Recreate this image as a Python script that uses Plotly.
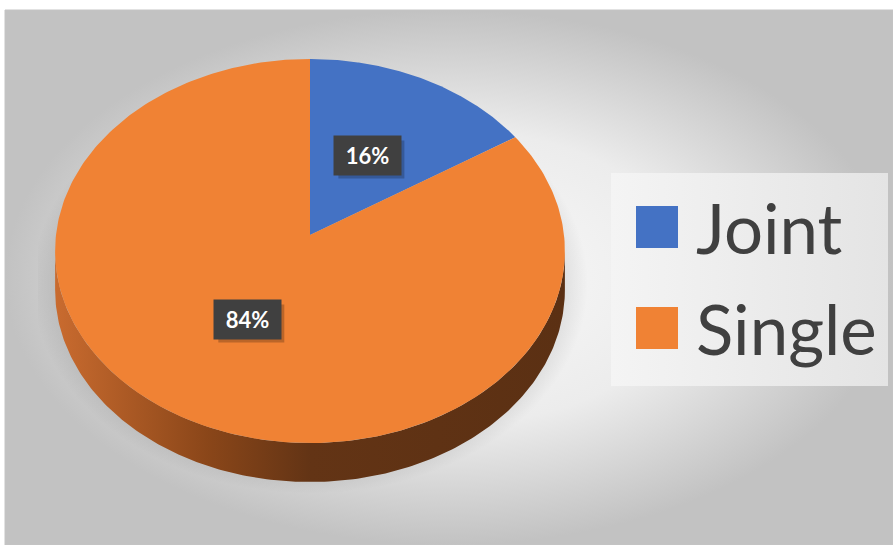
import numpy as np
import plotly.graph_objects as go

# ---- data ----
categories = ["Joint", "Single"]
shares = [16, 84]
top_colors = ["#4472C4", "#F08234"]
side_scales = [
    [[0, "#2f5597"], [1, "#1f3864"]],
    [[0, "#c96b2f"], [0.3, "#8a4619"], [0.5, "#633415"], [1, "#5b3013"]],
]

# ---- geometry of the tilted disc (pixel units) ----
W, H = 893, 545
CX, CY = 310, 235          # pie centre on screen
RX, RY = 254, 190.7        # horizontal / vertical half axes
PERSP = 0.0833             # perspective strength (near side larger)
DEPTH = 39                 # thickness of the disc
PLOT_X = (38, 590)         # plot area (clips the shadow)
PLOT_Y = (20, 497)


def proj(theta_deg, r=1.0, dz=0.0):
    """Project a point of the disc (clockwise angle from 12 o'clock) to screen."""
    t = np.radians(theta_deg)
    u = r * np.sin(t)
    v = -r * np.cos(t)
    w = 1 - PERSP * v
    return CX + RX * u / w, CY + RY * v / w + dz


fig = go.Figure()

# background panel with radial shading
bx = [5, W, W, 5, 5]
by = [10, 10, H, H, 10]
fig.add_trace(go.Scatter(
    x=bx, y=by, mode="lines", fill="toself",
    line=dict(color="#c4c4c4", width=1),
    fillgradient=dict(type="radial",
                      colorscale=[[0, "#fafafa"], [0.55, "#ececec"], [1, "#c2c2c2"]]),
    hoverinfo="skip", showlegend=False, xaxis="x", yaxis="y"))

# soft shadow under the disc
ang = np.linspace(0, 360, 361)
sx, sy = proj(ang, r=1.09, dz=30)
fig.add_trace(go.Scatter(
    x=sx, y=sy, mode="lines", fill="toself", line=dict(width=0),
    fillgradient=dict(type="radial",
                      colorscale=[[0, "rgba(0,0,0,0.22)"], [0.8, "rgba(0,0,0,0.18)"],
                                  [1, "rgba(0,0,0,0)"]]),
    hoverinfo="skip", showlegend=False, xaxis="x2", yaxis="y2"))

# slice angles
total = sum(shares)
bounds = np.concatenate([[0], np.cumsum(shares)]) / total * 360.0
delta = np.degrees(np.arcsin(PERSP))
front = (90 + delta, 270 - delta)

# visible rim of each slice
for i, cat in enumerate(categories):
    a0, a1 = bounds[i], bounds[i + 1]
    lo, hi = max(a0, front[0]), min(a1, front[1])
    if hi <= lo:
        continue
    t = np.linspace(lo, hi, 200)
    x_top, y_top = proj(t)
    x_bot, y_bot = proj(t[::-1], dz=DEPTH)
    xs = np.concatenate([x_top, x_bot, x_top[:1]])
    ys = np.concatenate([y_top, y_bot, y_top[:1]])
    fig.add_trace(go.Scatter(
        x=xs, y=ys, mode="lines", fill="toself", line=dict(width=0),
        fillgradient=dict(type="horizontal", colorscale=side_scales[i],
                          start=float(x_top.min()), stop=float(x_top.max())),
        hoverinfo="skip", showlegend=False, xaxis="x2", yaxis="y2"))

# top faces
for i, cat in enumerate(categories):
    a0, a1 = bounds[i], bounds[i + 1]
    t = np.linspace(a0, a1, 300)
    ax_, ay_ = proj(t)
    xs = np.concatenate([[CX], ax_, [CX]])
    ys = np.concatenate([[CY], ay_, [CY]])
    fig.add_trace(go.Scatter(
        x=xs, y=ys, mode="lines", fill="toself",
        fillcolor=top_colors[i], line=dict(width=0),
        name=cat, hoverinfo="skip", showlegend=False, xaxis="x2", yaxis="y2"))

# percentage labels
BOX_W, BOX_H = 65, 37
shapes = []
annotations = []
for i, cat in enumerate(categories):
    mid = (bounds[i] + bounds[i + 1]) / 2
    lx, ly = proj(mid, r=0.49)
    pct = shares[i] / total * 100
    shapes.append(dict(
        type="rect", xref="x2", yref="y2", layer="above",
        x0=lx - BOX_W / 2 + 3, x1=lx + BOX_W / 2 + 4,
        y0=ly - BOX_H / 2 + 3, y1=ly + BOX_H / 2 + 4,
        fillcolor="rgba(0,0,0,0.22)", line=dict(width=0)))
    annotations.append(dict(
        x=lx, y=ly, xref="x2", yref="y2", text=f"<b>{pct:.0f}%</b>",
        showarrow=False, bgcolor="#404040", width=BOX_W, height=BOX_H,
        font=dict(family="Lato", size=22, color="white"),
        xanchor="center", yanchor="middle"))

# legend panel
lx0, lx1, ly0, ly1 = 611, 888, 173, 386
fig.add_trace(go.Scatter(
    x=[lx0, lx1, lx1, lx0, lx0], y=[ly0, ly0, ly1, ly1, ly0],
    mode="lines", fill="toself", line=dict(width=0),
    fillgradient=dict(type="horizontal", colorscale=[[0, "#f4f4f4"], [1, "#e4e4e4"]],
                      start=lx0, stop=lx1),
    hoverinfo="skip", showlegend=False, xaxis="x", yaxis="y"))

leg_y = [227, 328]
fig.add_trace(go.Scatter(
    x=[657, 657], y=leg_y, mode="markers",
    marker=dict(symbol="square", size=42, color=top_colors, line=dict(width=0)),
    hoverinfo="skip", showlegend=False, xaxis="x", yaxis="y"))
for cat, yy in zip(categories, leg_y):
    annotations.append(dict(
        x=694, y=yy, xref="x", yref="y", text=cat, showarrow=False,
        xanchor="left", yanchor="middle",
        font=dict(family="Lato", size=69, color="#404040")))

fig.update_layout(
    width=W, height=H,
    margin=dict(l=0, r=0, t=0, b=0),
    paper_bgcolor="white", plot_bgcolor="rgba(0,0,0,0)",
    xaxis=dict(range=[0, W], domain=[0, 1], visible=False, fixedrange=True),
    yaxis=dict(range=[H, 0], domain=[0, 1], visible=False, fixedrange=True),
    xaxis2=dict(range=list(PLOT_X), domain=[PLOT_X[0] / W, PLOT_X[1] / W],
                visible=False, fixedrange=True, anchor="y2"),
    yaxis2=dict(range=[PLOT_Y[1], PLOT_Y[0]],
                domain=[1 - PLOT_Y[1] / H, 1 - PLOT_Y[0] / H],
                visible=False, fixedrange=True, anchor="x2"),
    shapes=shapes, annotations=annotations,
    showlegend=False,
)

fig.write_html("out.html")
